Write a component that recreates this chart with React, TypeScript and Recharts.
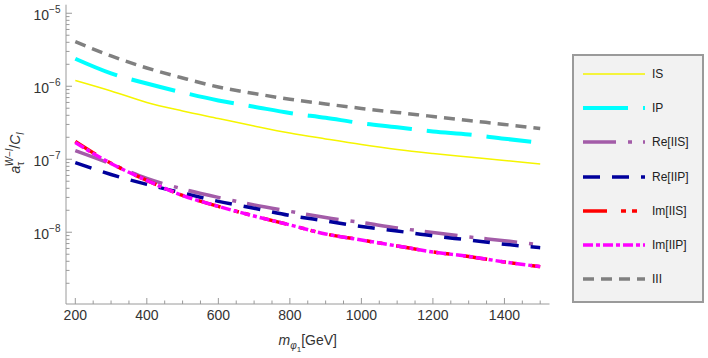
import { LineChart, Line, XAxis, YAxis, Label } from "recharts";

// values (log y axis)
const masses = [200, 300, 400, 500, 600, 700, 800, 900, 1000, 1100, 1200, 1300, 1400, 1500];
const isValues = [1.2e-6, 8.62e-7, 6.0e-7, 4.59e-7, 3.62e-7, 2.86e-7, 2.29e-7, 1.9e-7, 1.59e-7, 1.36e-7, 1.2e-7, 1.075e-7, 9.63e-8, 8.62e-8];
const ipValues = [2.38e-6, 1.5e-6, 1.09e-6, 8.22e-7, 6.39e-7, 5.25e-7, 4.31e-7, 3.7e-7, 3.12e-7, 2.75e-7, 2.4e-7, 2.19e-7, 1.91e-7, 1.69e-7];
const reIISValues = [1.31e-7, 8.62e-8, 5.46e-8, 3.92e-8, 3.0e-8, 2.37e-8, 1.93e-8, 1.59e-8, 1.36e-8, 1.145e-8, 9.94e-9, 8.62e-9, 7.67e-9, 6.7e-9];
const reIIPValues = [8.98e-8, 6.19e-8, 4.52e-8, 3.45e-8, 2.65e-8, 2.13e-8, 1.7e-8, 1.43e-8, 1.2e-8, 1.04e-8, 8.9e-9, 7.84e-9, 6.85e-9, 6.15e-9];
const imIISValues = [1.75e-7, 8.8e-8, 5.13e-8, 3.19e-8, 2.26e-8, 1.67e-8, 1.26e-8, 9.48e-9, 7.84e-9, 6.49e-9, 5.37e-9, 4.66e-9, 3.92e-9, 3.38e-9];
const imIIPValues = [1.69e-7, 8.76e-8, 5.13e-8, 3.19e-8, 2.26e-8, 1.67e-8, 1.26e-8, 9.48e-9, 7.84e-9, 6.49e-9, 5.37e-9, 4.66e-9, 3.92e-9, 3.38e-9];
const iiiValues = [4.08e-6, 2.6e-6, 1.78e-6, 1.3e-6, 9.78e-7, 7.96e-7, 6.64e-7, 5.72e-7, 4.97e-7, 4.38e-7, 3.86e-7, 3.4e-7, 3.0e-7, 2.64e-7];

const xMajorTicks = [200, 400, 600, 800, 1000, 1200, 1400];
const yMajorTicks = [1e-8, 1e-7, 1e-6, 1e-5];
const yTickExponents = ["\u22128", "\u22127", "\u22126", "\u22125"];

const X_DOMAIN = [174, 1526];
const Y_DOMAIN = [1.04e-9, 1.31e-5];

const data = masses.map((m, i) => ({
  m,
  is: isValues[i],
  ip: ipValues[i],
  reIIS: reIISValues[i],
  reIIP: reIIPValues[i],
  imIIS: imIISValues[i],
  imIIP: imIIPValues[i],
  iii: iiiValues[i],
}));

const series = [
  { key: "is", name: "IS", color: "#f5f500", width: 1.5, dash: undefined },
  { key: "ip", name: "IP", color: "#00ffff", width: 4, dash: "45 15" },
  { key: "reIIS", name: "Re[IIS]", color: "#a35ca8", width: 3.5, dash: "33 12 4 11" },
  { key: "reIIP", name: "Re[IIP]", color: "#00009c", width: 3.5, dash: "17 12" },
  { key: "imIIS", name: "Im[IIS]", color: "#ff0000", width: 3.5, dash: "24 14 5 6 5 14" },
  { key: "imIIP", name: "Im[IIP]", color: "#ff00ff", width: 3.5, dash: "10 3 4 3" },
  { key: "iii", name: "III", color: "#808080", width: 3.5, dash: "11 7" },
];

// tick positions (minor every 50 on x, 1..9 per decade on y)
const xTicks: number[] = [];
for (let v = 200; v <= 1500; v += 50) xTicks.push(v);
const yTicks: number[] = [];
for (let e = -9; e <= -5; e++) {
  for (let k = 1; k <= 9; k++) {
    const v = k * Math.pow(10, e);
    if (v >= Y_DOMAIN[0] && v <= Y_DOMAIN[1]) yTicks.push(v);
  }
}

const FRAME = "#9a9a9a";
const FONT = "'Liberation Sans', Arial, sans-serif";
const TEXT = "#333";

const isXMajor = (v: number) => xMajorTicks.includes(v);
const yMajorIndex = (v: number) => yMajorTicks.findIndex((t) => Math.abs(t - v) / t < 1e-6);

function BottomTick(props: any) {
  const { x, y, payload } = props;
  const major = isXMajor(payload.value);
  return (
    <g>
      <line x1={x} x2={x} y1={y} y2={y - (major ? 6 : 3.5)} stroke={FRAME} />
      {major && (
        <text x={x} y={y + 16} textAnchor="middle" fontSize={14} fontFamily={FONT} fill={TEXT}>
          {payload.value}
        </text>
      )}
    </g>
  );
}

function TopTick(props: any) {
  const { x, y, payload } = props;
  const major = isXMajor(payload.value);
  return <line x1={x} x2={x} y1={y} y2={y + (major ? 6 : 3.5)} stroke={FRAME} />;
}

function LeftTick(props: any) {
  const { x, y, payload } = props;
  const idx = yMajorIndex(payload.value);
  return (
    <g>
      <line x1={x} x2={x + (idx >= 0 ? 6 : 3.5)} y1={y} y2={y} stroke={FRAME} />
      {idx >= 0 && (
        <text x={x - 5.5} y={y + 6.5} textAnchor="end" fontSize={14} fontFamily={FONT} fill={TEXT}>
          10
          <tspan dy={-7} fontSize={10}>
            {yTickExponents[idx]}
          </tspan>
        </text>
      )}
    </g>
  );
}

function RightTick(props: any) {
  const { x, y, payload } = props;
  const idx = yMajorIndex(payload.value);
  return <line x1={x} x2={x - (idx >= 0 ? 6 : 3.5)} y1={y} y2={y} stroke={FRAME} />;
}

function XTitle(props: any) {
  const vb = props.viewBox || {};
  const cx = vb.x + vb.width / 2;
  return (
    <text x={cx} y={vb.y + 41} textAnchor="middle" fontSize={14} fontFamily={FONT} fill={TEXT}>
      <tspan fontStyle="italic">m</tspan>
      <tspan fontSize={10} fontStyle="italic" dy={4}>
        φ
      </tspan>
      <tspan fontSize={8} dy={3}>
        1
      </tspan>
      <tspan dy={-7}>[GeV]</tspan>
    </text>
  );
}

function YTitle() {
  const bx = 20;
  const cy = 153;
  return (
    <text
      x={bx}
      y={cy}
      transform={`rotate(-90, ${bx}, ${cy})`}
      textAnchor="middle"
      fontSize={14}
      fontFamily={FONT}
      fill={TEXT}
    >
      <tspan fontStyle="italic">a</tspan>
      <tspan fontSize={10} dy={4}>
        τ
      </tspan>
      <tspan fontSize={10} dx={-4.5} dy={-11} fontStyle="italic">
        W
      </tspan>
      <tspan fontSize={10}>−</tspan>
      <tspan fontSize={10} fontStyle="italic">
        l
      </tspan>
      <tspan dy={7}>/</tspan>
      <tspan fontStyle="italic">C</tspan>
      <tspan fontSize={10} fontStyle="italic" dy={4}>
        l
      </tspan>
    </text>
  );
}

function LegendBox() {
  return (
    <div
      style={{
        position: "absolute",
        left: 572,
        top: 54,
        width: 132,
        height: 249,
        boxSizing: "border-box",
        border: `2px solid ${FRAME}`,
        background: "#f2f2f2",
        fontFamily: FONT,
        fontSize: 12,
        color: "#222",
      }}
    >
      {series.map((s, i) => (
        <div
          key={s.key}
          style={{ position: "absolute", left: 0, top: 20 + i * 34.2 - 2 - 8, height: 16, width: 128 }}
        >
          <svg width={62} height={16} style={{ position: "absolute", left: 9, top: 0 }}>
            <line
              x1={0}
              x2={62}
              y1={8}
              y2={8}
              stroke={s.color}
              strokeWidth={s.width}
              strokeDasharray={s.dash}
            />
          </svg>
          <span style={{ position: "absolute", left: 78, top: 1, lineHeight: "14px" }}>{s.name}</span>
        </div>
      ))}
    </div>
  );
}

export default function App() {
  return (
    <div style={{ position: "absolute", left: 0, top: 0, width: 708, height: 358, background: "#fff" }}>
      <LineChart width={708} height={358} data={data} margin={{ top: 4.7, right: 158.5, bottom: 0, left: 6 }}>
        <XAxis
          dataKey="m"
          type="number"
          domain={X_DOMAIN}
          allowDataOverflow
          ticks={xTicks}
          interval={0}
          height={54}
          tickSize={0}
          tickMargin={0}
          tickLine={false}
          axisLine={{ stroke: FRAME }}
          tick={<BottomTick />}
        >
          <Label content={<XTitle />} />
        </XAxis>
        <XAxis
          xAxisId="top"
          orientation="top"
          dataKey="m"
          type="number"
          domain={X_DOMAIN}
          allowDataOverflow
          ticks={xTicks}
          interval={0}
          height={0}
          tickSize={0}
          tickMargin={0}
          tickLine={false}
          axisLine={{ stroke: FRAME }}
          tick={<TopTick />}
        />
        <YAxis
          scale="log"
          type="number"
          domain={Y_DOMAIN}
          allowDataOverflow
          ticks={yTicks}
          interval={0}
          width={60}
          tickSize={0}
          tickMargin={0}
          tickLine={false}
          axisLine={{ stroke: FRAME }}
          tick={<LeftTick />}
        >
          <Label content={<YTitle />} />
        </YAxis>
        <YAxis
          yAxisId="right"
          orientation="right"
          scale="log"
          type="number"
          domain={Y_DOMAIN}
          allowDataOverflow
          ticks={yTicks}
          interval={0}
          width={0}
          tickSize={0}
          tickMargin={0}
          tickLine={false}
          axisLine={{ stroke: FRAME }}
          tick={<RightTick />}
        />
        {series.map((s) => (
          <Line
            key={s.key}
            type="monotone"
            dataKey={s.key}
            name={s.name}
            stroke={s.color}
            strokeWidth={s.width}
            strokeDasharray={s.dash}
            dot={false}
            activeDot={false}
            isAnimationActive={false}
          />
        ))}
      </LineChart>
      <LegendBox />
    </div>
  );
}
